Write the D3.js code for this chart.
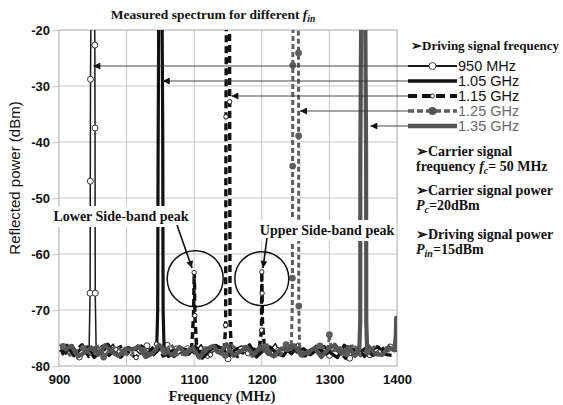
<!DOCTYPE html>
<html><head><meta charset="utf-8">
<script src="https://cdn.jsdelivr.net/npm/d3@7"></script>
<style>body{margin:0;background:#fff}</style></head>
<body>
<svg id="c" width="563" height="405"></svg>
<script>
// ---------- data ----------
const xTicks = [900, 1000, 1100, 1200, 1300, 1400];
const yTicks = [-20, -30, -40, -50, -60, -70, -80];
const seriesNames = ["950 MHz", "1.05 GHz", "1.15 GHz", "1.25 GHz", "1.35 GHz"];
const noiseStart = [900, 902, 904, 906, 908];   // first frequency of each noise trace (MHz), 10 MHz step

const n950  = [-76.8,-77.9,-76.2,-78.4,-77.1,-76.5,-78.0,-77.4,-76.1,-78.6,-77.2,-76.7,-77.9,-76.4,-78.2,-77.0,-76.3,-78.5,-77.6,-76.9,-77.8,-76.2,-78.1,-77.3,-76.6,-78.7,-77.0,-76.4,-77.7,-78.3,-76.8,-77.5,-76.0,-78.2,-77.1,-76.7,-78.4,-77.6,-76.3,-77.9,-78.1,-76.5,-77.3,-78.6,-76.9,-77.2,-78.0,-76.4,-77.8,-76.6,-77.4];
const n1050 = [-77.5,-76.3,-78.2,-77.0,-76.6,-78.5,-77.3,-76.1,-77.8,-78.4,-76.7,-77.1,-76.4,-78.0,-77.6,-76.2,-78.3,-77.2,-76.8,-77.9,-76.5,-78.6,-77.4,-76.3,-77.0,-78.1,-76.9,-77.7,-76.2,-78.4,-77.3,-76.6,-77.8,-78.2,-76.4,-77.5,-76.9,-78.0,-77.1,-76.5,-77.7,-78.5,-76.3,-77.2,-76.8,-78.3,-77.0,-76.6,-77.9,-78.1];
const n1150 = [-78.0,-76.9,-77.4,-76.2,-78.3,-77.7,-76.5,-78.1,-77.0,-76.4,-77.8,-78.5,-76.7,-77.3,-76.1,-78.2,-77.6,-76.8,-77.1,-78.4,-76.3,-77.5,-78.0,-76.6,-77.9,-76.2,-78.3,-77.2,-76.9,-77.6,-76.4,-78.5,-77.1,-76.7,-77.8,-76.3,-78.2,-77.4,-76.5,-78.0,-76.9,-77.3,-78.6,-76.2,-77.7,-76.8,-78.1,-77.5,-76.4,-77.0];
const n1250 = [-76.5,-78.1,-77.3,-76.8,-77.9,-76.2,-78.4,-77.0,-76.6,-77.6,-78.3,-76.4,-77.2,-78.0,-76.9,-77.5,-76.1,-78.2,-77.7,-76.5,-78.5,-77.1,-76.7,-77.8,-78.1,-76.3,-77.4,-76.8,-78.3,-77.0,-76.5,-77.9,-78.4,-76.2,-77.6,-76.9,-78.0,-77.2,-76.4,-78.5,-77.3,-76.7,-77.8,-76.1,-78.2,-77.5,-76.6,-78.3,-77.0,-76.8];
const n1350 = [-77.2,-76.4,-78.3,-77.6,-76.7,-78.0,-76.3,-77.5,-78.2,-76.9,-77.1,-76.5,-78.4,-77.8,-76.2,-77.3,-78.1,-76.6,-77.9,-76.8,-78.5,-77.0,-76.4,-77.7,-76.1,-78.2,-77.4,-76.7,-78.0,-76.5,-77.6,-78.3,-76.9,-77.2,-76.3,-78.1,-77.5,-76.8,-78.4,-77.0,-76.2,-77.8,-76.6,-78.2,-77.3,-76.5,-77.9,-78.0,-76.7];

// peaks / side-bands [MHz, dBm] (values above -20 run off the top of the plot)
const p950  = [[[944.5,-77.2],[946,-67],[946.3,-47],[946.6,-28.8],[948,-5],[952,-5],[953,-22.7],[953.3,-37.5],[953.6,-67],[955,-77.3]]];
const p1050 = [[[1044.5,-77.0],[1046,-70],[1046.5,-45],[1048,-5],[1052,-5],[1053.5,-40],[1054,-70],[1055.5,-77.2]]];
const p1150 = [
  [[1096,-77.1],[1099,-71],[1100,-63.3],[1100.6,-66],[1101,-71],[1104,-77.3]],
  [[1144.5,-77.0],[1146.5,-72.7],[1147,-35.5],[1148,-5],[1152,-5],[1152.5,-32.8],[1153,-72],[1155,-77.2]],
  [[1196,-77.2],[1199.5,-73.6],[1200,-63.2],[1200.5,-67],[1201,-72],[1204,-77.0]]
];
const p1250 = [
  [[1243.5,-77.0],[1245,-70],[1245.3,-64.3],[1245.6,-44.3],[1245.9,-26.3],[1247,-5],[1253,-5],[1254.3,-24.1],[1254.5,-38.9],[1254.7,-69.3],[1256,-77.2]],
  [[1297,-77.1],[1299.5,-75.2],[1300,-74.4],[1300.5,-75.2],[1303,-77.2]]
];
const p1350 = [
  [[1344.3,-77.1],[1345.6,-72],[1345.8,-43],[1347.5,-5],[1352.5,-5],[1354.3,-43],[1354.5,-72],[1355.8,-77.0]],
  [[1396,-77.2],[1398.3,-74.5],[1398.8,-71.4],[1399.3,-74.5],[1400,-77.0]]
];
// explicit markers on the peaks [MHz, dBm]
const m950  = [[953,-22.7],[946.6,-28.8],[953.3,-37.5],[946.3,-47],[946,-67],[953.6,-67]];
const m1150 = [[1152.5,-32.8],[1147,-35.5],[1146.5,-72.7],[1100,-63.3],[1101,-71],[1200,-63.2],[1200.5,-67],[1199.5,-73.6]];
const m1250 = [[1254.3,-24.1],[1245.9,-26.3],[1254.5,-38.9],[1245.6,-44.3],[1245.3,-64.3],[1254.7,-69.3],[1300,-74.4]];

// ---------- layout ----------
const svg = d3.select("#c");
const x = d3.scaleLinear().domain([900, 1400]).range([59, 397]);
const y = d3.scaleLinear().domain([-80, -20]).range([366, 30]);
const serif = "'Liberation Serif','Times New Roman',serif";
const sans = "'Liberation Sans',Arial,sans-serif";

const styles = [
  {color:"#1a1a1a", width:1.5, dash:null, marker:"open"},
  {color:"#111111", width:3.2, dash:null, marker:null},
  {color:"#111111", width:3.4, dash:"7,4", marker:"small"},
  {color:"#5e5e5e", width:3, dash:"5,3", marker:"dot"},
  {color:"#545454", width:4.2, dash:null, marker:null}
];
const noise = [n950, n1050, n1150, n1250, n1350];
const peaks = [p950, p1050, p1150, p1250, p1350];
const marks = [m950, [], m1150, m1250, []];

// grid
const gGrid = svg.append("g");
gGrid.selectAll(".hg").data(yTicks.filter(d => d > -80 && d < -20)).enter().append("line")
  .attr("x1", x(900)).attr("x2", x(1400)).attr("y1", d => y(d)).attr("y2", d => y(d))
  .attr("stroke", "#c4c4c4").attr("stroke-width", 1);
gGrid.selectAll(".vg").data(xTicks.filter(d => d > 900 && d < 1400)).enter().append("line")
  .attr("y1", y(-20)).attr("y2", y(-80)).attr("x1", d => x(d)).attr("x2", d => x(d))
  .attr("stroke", "#c4c4c4").attr("stroke-width", 1);
svg.append("rect").attr("x", x(900)).attr("y", y(-20)).attr("width", x(1400) - x(900)).attr("height", y(-80) - y(-20))
  .attr("fill", "none").attr("stroke", "#a8a8a8").attr("stroke-width", 1);

// axes
const ya = svg.append("g").attr("transform", `translate(${x(900)},0)`)
  .call(d3.axisLeft(y).tickValues(yTicks).tickSize(6).tickPadding(3).tickFormat(d => String(d)));
ya.select(".domain").remove();
ya.selectAll("line").attr("stroke", "#c4c4c4");
ya.selectAll("text").attr("font-family", sans).attr("font-weight", "bold").attr("font-size", 13).attr("fill", "#111");
const xa = svg.append("g").attr("transform", `translate(0,${y(-80)})`)
  .call(d3.axisBottom(x).tickValues(xTicks).tickSize(0).tickPadding(9).tickFormat(d => String(d)));
xa.select(".domain").remove();
xa.selectAll("text").attr("font-family", sans).attr("font-weight", "bold").attr("font-size", 13).attr("fill", "#111");

// clip
svg.append("clipPath").attr("id", "plotclip").append("rect")
  .attr("x", x(900)).attr("y", y(-20)).attr("width", x(1400) - x(900)).attr("height", y(-80) - y(-20));
const gPlot = svg.append("g").attr("clip-path", "url(#plotclip)");

const line = d3.line().x(d => x(d[0])).y(d => y(d[1]));

seriesNames.forEach((name, i) => {
  const st = styles[i];
  const segs = peaks[i];
  const noisePts = noise[i].map((v, k) => [noiseStart[i] + 10 * k, v]);
  const kept = noisePts.filter(p => !segs.some(s => p[0] >= s[0][0] - 2 && p[0] <= s[s.length - 1][0] + 2));
  const pts = kept.concat(...segs).sort((a, b) => a[0] - b[0]);
  const path = gPlot.append("path").datum(pts).attr("d", line)
    .attr("fill", "none").attr("stroke", st.color).attr("stroke-width", st.width)
    .attr("stroke-linejoin", "round");
  if (st.dash) path.attr("stroke-dasharray", st.dash);
  if (st.marker) {
    const mk = marks[i].concat(kept.filter((p, k) => k % 3 === i % 3));
    const g = gPlot.append("g");
    const c = g.selectAll("circle").data(mk).enter().append("circle")
      .attr("cx", d => x(d[0])).attr("cy", d => y(d[1]));
    if (st.marker === "open") c.attr("r", 3).attr("fill", "#fff").attr("stroke", "#333").attr("stroke-width", 1);
    if (st.marker === "small") c.attr("r", 2.2).attr("fill", "#fff").attr("stroke", "#222").attr("stroke-width", 1);
    if (st.marker === "dot") c.attr("r", 3.4).attr("fill", "#5e5e5e");
  }
});

// arrow marker defs
const defs = svg.append("defs");
defs.append("marker").attr("id", "ah").attr("viewBox", "0 0 10 10").attr("refX", 10).attr("refY", 5)
  .attr("markerWidth", 9).attr("markerHeight", 7).attr("markerUnits", "userSpaceOnUse").attr("orient", "auto")
  .append("path").attr("d", "M0,0L10,5L0,10Z").attr("fill", "#111");

// legend
const legX0 = 408, legX1 = 457;
const legY = [66, 81, 96, 111, 126];
const arrowTip = [950.8, 1053.5, 1155, 1256.5, 1360.5];   // MHz each legend arrow points at
svg.append("text").attr("x", 411).attr("y", 50).attr("font-family", serif).attr("font-weight", "bold")
  .attr("font-size", 13).attr("fill", "#111").text("➢Driving signal frequency");
seriesNames.forEach((name, i) => {
  const st = styles[i];
  const yy = legY[i];
  svg.append("line").attr("x1", legX0).attr("x2", x(arrowTip[i])).attr("y1", yy).attr("y2", yy)
    .attr("stroke", "#333").attr("stroke-width", 0.9).attr("marker-end", "url(#ah)");
  const s = svg.append("line").attr("x1", legX0).attr("x2", legX1).attr("y1", yy).attr("y2", yy)
    .attr("stroke", st.color).attr("stroke-width", i === 0 ? 2 : st.width + 0.5);
  if (st.dash) s.attr("stroke-dasharray", i === 2 ? "9,5" : "6,3");
  const cx = (legX0 + legX1) / 2;
  if (st.marker === "open") svg.append("circle").attr("cx", cx).attr("cy", yy).attr("r", 3.5).attr("fill", "#fff").attr("stroke", "#444");
  if (st.marker === "small") svg.append("circle").attr("cx", cx).attr("cy", yy).attr("r", 2).attr("fill", "#fff").attr("stroke", "#333");
  if (st.marker === "dot") svg.append("circle").attr("cx", cx).attr("cy", yy).attr("r", 4).attr("fill", "#555");
  svg.append("text").attr("x", legX1 + 1).attr("y", yy + 5).attr("font-family", sans).attr("font-size", 14.5)
    .attr("fill", i < 3 ? "#111" : "#6a6a6a").text(name);
});

// side text
function rich(xp, yp, parts) {
  const t = svg.append("text").attr("x", xp).attr("y", yp).attr("font-family", serif)
    .attr("font-weight", "bold").attr("font-size", 14).attr("fill", "#111");
  parts.forEach(p => {
    const ts = t.append("tspan").text(p.t);
    if (p.i) ts.attr("font-style", "italic");
    if (p.sub) ts.attr("font-size", 10).attr("dy", 3);
    if (p.up) ts.attr("dy", -3);
  });
}
rich(416, 156, [{t:"➢Carrier signal"}]);
rich(416, 171, [{t:"frequency "}, {t:"f", i:1}, {t:"c", i:1, sub:1}, {t:"= 50 MHz", up:1}]);
rich(416, 195, [{t:"➢Carrier signal power"}]);
rich(416, 210, [{t:"P", i:1}, {t:"c", i:1, sub:1}, {t:"=20dBm", up:1}]);
rich(416, 239, [{t:"➢Driving signal power"}]);
rich(416, 254, [{t:"P", i:1}, {t:"in", i:1, sub:1}, {t:"=15dBm", up:1}]);

// title & axis labels
const title = svg.append("text").attr("x", 213).attr("y", 19).attr("text-anchor", "middle")
  .attr("font-family", serif).attr("font-weight", "bold").attr("font-size", 13.5).attr("fill", "#111");
title.append("tspan").text("Measured spectrum for different ");
title.append("tspan").attr("font-style", "italic").text("f");
title.append("tspan").attr("font-style", "italic").attr("font-size", 9.5).attr("dy", 3).text("in");
svg.append("text").attr("x", 222).attr("y", 401).attr("text-anchor", "middle")
  .attr("font-family", serif).attr("font-weight", "bold").attr("font-size", 14).attr("fill", "#111")
  .text("Frequency (MHz)");
svg.append("text").attr("transform", "translate(20,178) rotate(-90)").attr("text-anchor", "middle")
  .attr("font-family", sans).attr("font-size", 15).attr("fill", "#111").text("Reflected power (dBm)");

// annotations
function label(cx, cy, txt) {
  const t = svg.append("text").attr("x", cx).attr("y", cy + 5).attr("text-anchor", "middle")
    .attr("font-family", serif).attr("font-weight", "bold").attr("font-size", 14).attr("fill", "#111").text(txt);
  const b = t.node().getBBox();
  svg.insert("rect", () => t.node()).attr("x", b.x - 2).attr("y", b.y - 3).attr("width", b.width + 4).attr("height", b.height + 6).attr("fill", "#fff");
}
label(121, 216, "Lower Side-band peak");
label(327, 230, "Upper Side-band peak");
svg.append("line").attr("x1", 177).attr("y1", 225).attr("x2", 192).attr("y2", 268)
  .attr("stroke", "#111").attr("stroke-width", 1.6).attr("marker-end", "url(#ah)");
svg.append("line").attr("x1", 267).attr("y1", 238).attr("x2", 263).attr("y2", 268)
  .attr("stroke", "#111").attr("stroke-width", 1.6).attr("marker-end", "url(#ah)");
svg.append("circle").attr("cx", x(1100) + 1).attr("cy", y(-64.4)).attr("r", 28)
  .attr("fill", "none").attr("stroke", "#111").attr("stroke-width", 1.5);
svg.append("circle").attr("cx", x(1200)).attr("cy", y(-64.4)).attr("r", 27)
  .attr("fill", "none").attr("stroke", "#111").attr("stroke-width", 1.5);
</script>
</body></html>
